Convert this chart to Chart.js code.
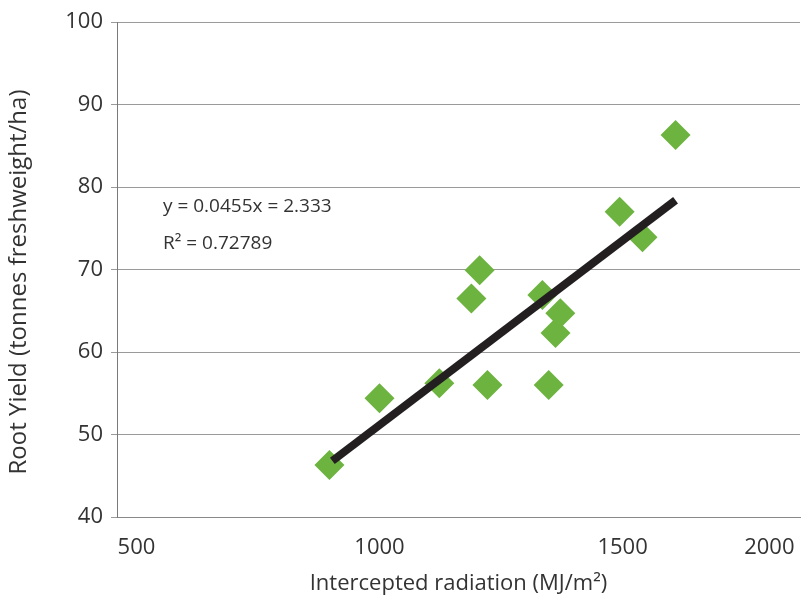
<!DOCTYPE html>
<html>
<head>
<meta charset="utf-8">
<script src="https://cdn.jsdelivr.net/npm/chart.js@4.4.0/dist/chart.umd.min.js"></script>
<style>
  html, body { margin: 0; padding: 0; background: #fff; }
  #wrap { width: 807px; height: 597px; }
</style>
</head>
<body>
<div id="wrap"><canvas id="yieldChart" width="807" height="597"></canvas></div>
<script>
// radiation (MJ/m2) and root yield (t/ha)
const radiation = [897, 1000, 1123, 1189, 1206, 1222, 1335, 1348, 1362, 1372, 1494, 1541, 1609];
const rootYield = [46.3, 54.4, 56.2, 66.5, 69.9, 56.0, 66.9, 56.0, 62.3, 64.7, 77.0, 73.9, 86.3];

// fitted line end points
const trendX = [903, 1609];
const trendY = [46.8, 78.4];

// x tick labels; the "2000" label sits well left of where 2000 would be in the original
const xTickValues = [500, 1000, 1500, 1802];
const xTickLabels = ['500', '1000', '1500', '2000'];
const yTicks = [40, 50, 60, 70, 80, 90, 100];

const equationLines = ['y = 0.0455x = 2.333', 'R\u00b2 = 0.72789'];

const FONT = "'Open Sans', sans-serif";
const TEXT = '#333333';

const equationPlugin = {
    id: 'equation',
    afterDatasetsDraw(chart) {
        const ctx = chart.ctx;
        ctx.save();
        ctx.font = "19px " + FONT;
        ctx.fillStyle = TEXT;
        ctx.textBaseline = 'middle';
        ctx.fillText(equationLines[0], 163, 207);
        ctx.fillText(equationLines[1], 163, 244);
        ctx.restore();
    }
};

var ctx = document.getElementById('yieldChart').getContext('2d');
new Chart(ctx, {
    type: 'scatter',
    data: {
        datasets: [{
            type: 'line',
            data: trendX.map((x, i) => ({ x: x, y: trendY[i] })),
            borderColor: '#231f20',
            borderWidth: 8,
            pointRadius: 0,
            borderCapStyle: 'butt',
            order: 0
        }, {
            data: radiation.map((x, i) => ({ x: x, y: rootYield[i] })),
            pointStyle: 'rectRot',
            pointRadius: 15,
            pointHoverRadius: 15,
            backgroundColor: '#6cb33f',
            borderWidth: 0,
            order: 1
        }]
    },
    options: {
        responsive: false,
        animation: false,
        layout: { autoPadding: false, padding: { top: 22, right: 7, left: 0, bottom: 0 } },
        plugins: {
            legend: { display: false },
            tooltip: { enabled: false }
        },
        scales: {
            x: {
                type: 'linear',
                min: 460,
                max: 1865,
                afterFit: function (scale) {
                    scale.height = 80;
                    scale.paddingLeft = 0;
                    scale.paddingRight = 0;
                },
                afterBuildTicks: function (scale) {
                    scale.ticks = xTickValues.map(v => ({ value: v }));
                },
                grid: { display: false, drawTicks: false },
                border: { display: true, color: '#8a8a8a', width: 1 },
                ticks: {
                    color: TEXT,
                    font: { family: FONT, size: 22 },
                    padding: 18,
                    maxRotation: 0,
                    autoSkip: false,
                    callback: function (v) {
                        return xTickLabels[xTickValues.indexOf(v)];
                    }
                },
                title: {
                    display: true,
                    text: 'Intercepted radiation (MJ/m\u00b2)',
                    color: TEXT,
                    font: { family: FONT, size: 22 },
                    padding: { top: 0, bottom: 0 }
                }
            },
            y: {
                min: 40,
                max: 100,
                afterFit: function (scale) {
                    scale.width = 117;
                    scale.paddingTop = 0;
                    scale.paddingBottom = 0;
                },
                afterBuildTicks: function (scale) {
                    scale.ticks = yTicks.map(v => ({ value: v }));
                },
                grid: { color: '#9a9a9a', lineWidth: 1, tickLength: 6 },
                border: { display: true, color: '#7a7a7a', width: 1 },
                ticks: {
                    color: TEXT,
                    font: { family: FONT, size: 22 },
                    padding: 8
                },
                title: {
                    display: true,
                    // trailing spaces nudge the rotated title down a little, as in the original
                    text: 'Root Yield (tonnes freshweight/ha)\u00a0\u00a0\u00a0\u00a0',
                    color: TEXT,
                    font: { family: FONT, size: 24 },
                    padding: { top: 5, bottom: 0 }
                }
            }
        }
    },
    plugins: [equationPlugin]
});
</script>
</body>
</html>
